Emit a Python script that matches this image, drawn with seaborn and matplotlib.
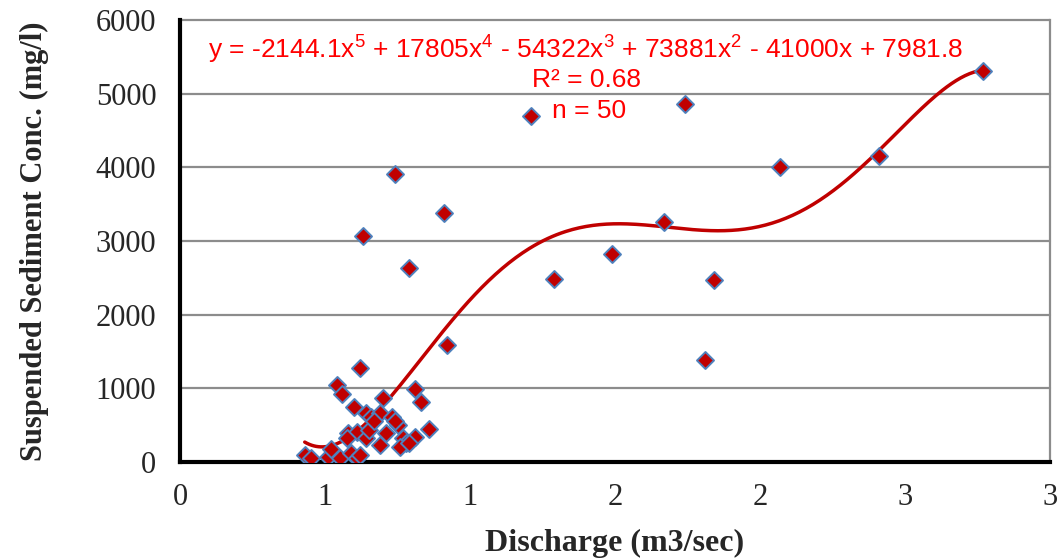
import numpy as np
import pandas as pd
import seaborn as sns
import matplotlib.pyplot as plt

#%% Data
discharge = [2.77, 2.41, 2.07, 1.74, 1.21, 1.67, 1.49, 1.29, 1.84, 1.81,
             0.91, 0.74, 0.63, 0.79, 0.92, 0.62, 0.54, 0.56, 0.60, 0.70,
             0.81, 0.83, 0.86, 0.81, 0.64, 0.58, 0.61, 0.64, 0.43, 0.45,
             0.51, 0.55, 0.59, 0.61, 0.66, 0.69, 0.73, 0.75, 0.65, 0.71,
             0.77, 0.78, 0.69, 0.76, 0.62, 0.575, 0.52, 0.67, 0.74, 0.79]
ssc = [5310, 4160, 4010, 4860, 4690, 3260, 2820, 2480, 2470, 1390,
       3380, 3910, 3070, 2640, 1590, 1270, 1050, 930, 745, 870,
       990, 820, 455, 345, 660, 390, 410, 320, 95, 55,
       72, 55, 118, 50, 615, 660, 615, 502, 434, 390,
       321, 254, 230, 208, 95, 325, 180, 560, 560, 260]

# trendline coefficients as printed on the chart (x^5 ... x^0)
coefs = [-2144.1, 17805, -54322, 73881, -41000, 7981.8]

xticks = [0, 0.5, 1.0, 1.5, 2.0, 2.5, 3.0]
xtick_labels = ['0', '1', '1', '2', '2', '3', '3']
yticks = [0, 1000, 2000, 3000, 4000, 5000, 6000]

df = pd.DataFrame({'Q': discharge, 'SSC': ssc})
xfit = np.linspace(min(discharge), max(discharge), 300)
fit = pd.DataFrame({'Q': xfit, 'SSC': np.polyval(coefs, xfit)})

#%% Plot
sns.set_style('white')
plt.rcParams['font.family'] = ['Liberation Serif', 'DejaVu Serif']
plt.rcParams['mathtext.fontset'] = 'custom'
plt.rcParams['mathtext.rm'] = 'Liberation Sans'
plt.rcParams['mathtext.default'] = 'rm'

fig = plt.figure(figsize=(10.61, 5.58), dpi=100)
ax = fig.add_axes([0.1697, 0.172, 0.8199, 0.7922])

for yv in yticks[1:]:
    ax.axhline(yv, color='#8c8c8c', lw=1.6, zorder=0, clip_on=False)

sns.lineplot(data=fit, x='Q', y='SSC', ax=ax, color='#C00000', lw=2.5, zorder=2)
sns.scatterplot(data=df, x='Q', y='SSC', ax=ax, marker='D', s=75,
                color='#C00000', edgecolor='#4F81BD', linewidth=1.4, zorder=3)

ax.set_xlim(0, 3)
ax.set_ylim(0, 6000)
ax.set_xticks(xticks)
ax.set_xticklabels(xtick_labels)
ax.set_yticks(yticks)
ax.tick_params(axis='both', labelsize=22, direction='out', length=6, width=2,
               color='black', pad=11)
ax.tick_params(axis='x', pad=9)

for side in ['left', 'bottom']:
    ax.spines[side].set_linewidth(3)
    ax.spines[side].set_color('black')
ax.spines['top'].set_visible(False)
ax.spines['right'].set_color('#8c8c8c')
ax.spines['right'].set_linewidth(1.6)

ax.set_xlabel('Discharge (m3/sec)', fontsize=23, fontweight='bold', labelpad=12)
ax.set_ylabel('Suspended Sediment Conc. (mg/l)', fontsize=22, fontweight='bold', labelpad=34)

ax.text(1.40, 5600, 'y = -2144.1x$^{5}$ + 17805x$^{4}$ - 54322x$^{3}$ + 73881x$^{2}$ - 41000x + 7981.8',
        color='red', fontsize=19, family='Liberation Sans', ha='center', va='center')
ax.text(1.40, 5190, 'R² = 0.68', color='red', fontsize=19, family='Liberation Sans',
        ha='center', va='center')
ax.text(1.41, 4760, 'n = 50', color='red', fontsize=19, family='Liberation Sans',
        ha='center', va='center')

fig.savefig('out.png', dpi=100)
